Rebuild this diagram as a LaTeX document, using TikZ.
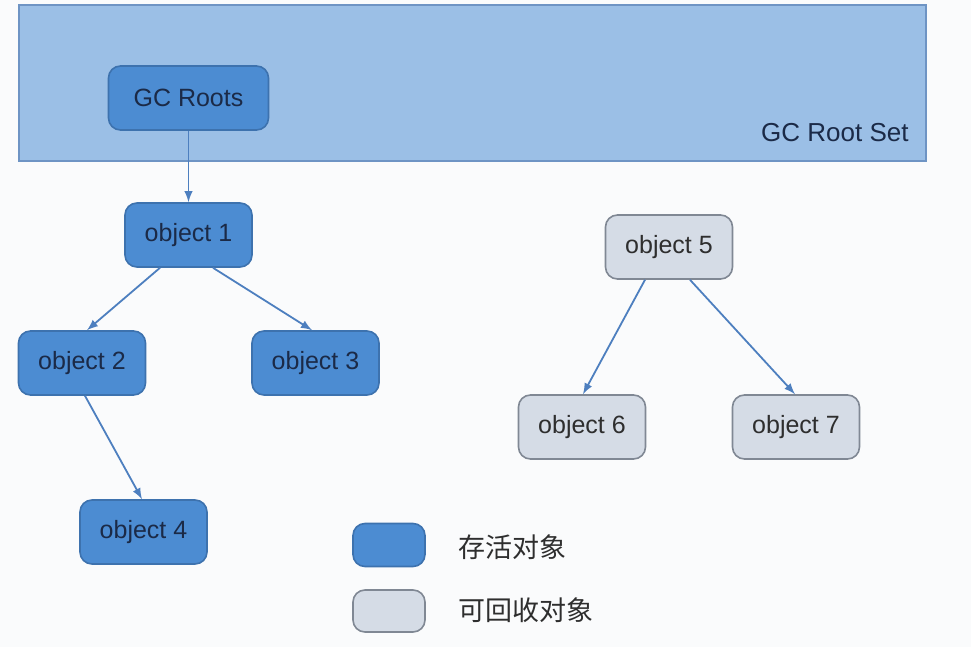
\documentclass[tikz,border=0pt]{standalone}
\usepackage{fontspec}
\setmainfont{Liberation Sans}
\newfontfamily\cjk{Noto Sans CJK SC}
\usepackage{tikz}
\usetikzlibrary{calc,arrows}
\definecolor{pagebg}{HTML}{FAFBFC}
\definecolor{setfill}{HTML}{9BBFE6}
\definecolor{setdraw}{HTML}{6E94C4}
\definecolor{livefill}{HTML}{4C8CD2}
\definecolor{livedraw}{HTML}{3D72AE}
\definecolor{livetext}{HTML}{1B2A47}
\definecolor{deadfill}{HTML}{D5DCE6}
\definecolor{deaddraw}{HTML}{808894}
\definecolor{deadtext}{HTML}{2E2E2E}
\definecolor{linkcol}{HTML}{4D7FBF}
\tikzset{>=latex}
\tikzset{
  objbox/.style = {rectangle, rounded corners = 6pt, line width = 0.8pt, inner sep = 0pt,
                   minimum width = 63.5pt, minimum height = 32pt, font = \fontsize{12.5}{14}\selectfont},
  live/.style = {objbox, fill = livefill, draw = livedraw, text = livetext},
  dead/.style = {objbox, fill = deadfill, draw = deaddraw, text = deadtext},
  link/.style = {->, draw = linkcol, line width = 0.9pt},
  legendtext/.style = {anchor = west, inner sep = 0pt, text = deadtext, font = \cjk\fontsize{13.5}{15}\selectfont}
}

\begin{document}
\begin{tikzpicture}[x=0.5pt, y=-0.5pt]
\fill[pagebg] (0, 0) rectangle (971, 647);
\useasboundingbox (0, 0) rectangle (971, 647);
% root set
\draw[fill = setfill, draw = setdraw, line width = 0.8pt] (19, 5) rectangle (926, 161);
\node[anchor = base east, inner sep = 0pt, text = livetext, font = \fontsize{13}{15}\selectfont] (setlabel) at (909, 142) {GC Root Set};
\node[live, minimum width = 80pt] (roots) at (188.5, 98) {GC Roots};
% reachable objects
\node[live] (o1) at (188.5, 235) {object 1};
\node[live] (o2) at (82, 363) {object 2};
\node[live] (o3) at (315.5, 363) {object 3};
\node[live] (o4) at (143.5, 532) {object 4};
% unreachable objects
\node[dead] (o5) at (669, 247) {object 5};
\node[dead] (o6) at (582, 427) {object 6};
\node[dead] (o7) at (796, 427) {object 7};
% references
\draw[link] (roots.south) -- (o1.north);
\draw[link] ([xshift = -14.25pt]o1.south) -- ([xshift = 2.5pt]o2.north);
\draw[link] ([xshift = 12.25pt]o1.south) -- ([xshift = -1.75pt]o3.north);
\draw[link] ([xshift = 1.5pt]o2.south) -- ([xshift = -0.75pt]o4.north);
\draw[link] ([xshift = -12pt]o5.south) -- ([xshift = 0.5pt]o6.north);
\draw[link] ([xshift = 10.5pt]o5.south) -- ([xshift = -0.5pt]o7.north);
% legend
\node[live, minimum width = 36pt, minimum height = 21.5pt] (keylive) at (389, 545) {};
\node[dead, minimum width = 36pt, minimum height = 21pt] (keydead) at (389, 611) {};
\node[legendtext] (txtlive) at (458, 547) {存活对象};
\node[legendtext] (txtdead) at (458, 610) {可回收对象};
\end{tikzpicture}
\end{document}
